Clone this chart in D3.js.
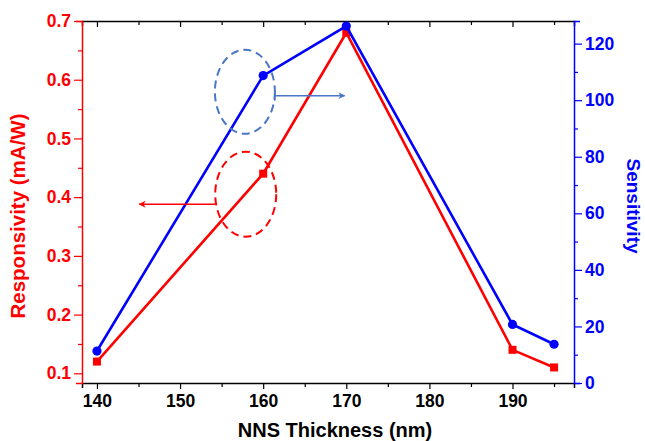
<!DOCTYPE html>
<html>
<head>
<meta charset="utf-8">
<script src="https://cdn.jsdelivr.net/npm/d3@7"></script>
<style>
  body { margin: 0; background: #fff; }
  text { font-family: "Liberation Sans", Arial, sans-serif; font-weight: bold; }
</style>
</head>
<body>
<div id="chart"></div>
<script>
// data
var thickness = [140, 160, 170, 190, 195];
var responsivity = [0.12, 0.44, 0.68, 0.14, 0.11];
var sensitivity = [11.3, 108.7, 126.2, 20.7, 13.7];

var xTicks = [140, 150, 160, 170, 180, 190];
var leftTicks = [0.1, 0.2, 0.3, 0.4, 0.5, 0.6, 0.7];
var rightTicks = [0, 20, 40, 60, 80, 100, 120];

var svgWidth = 645, svgHeight = 441;
var margin = { top: 21, right: 71, bottom: 58, left: 82 };
var width = svgWidth - margin.left - margin.right;
var height = svgHeight - margin.top - margin.bottom;

var RED = "#ff0000", BLUE = "#0000ff", ANNO_BLUE = "#4a76c6";

var svg = d3.select("#chart").append("svg")
  .attr("width", svgWidth)
  .attr("height", svgHeight);

var chartGroup = svg.append("g")
  .attr("transform", `translate(${margin.left}, ${margin.top})`);

// scales
var xScale = d3.scaleLinear().domain([138.2, 197.4]).range([0, width]);
var yLeft = d3.scaleLinear().domain([0.0835, 0.7]).range([height, 0]);
var yRight = d3.scaleLinear().domain([0, 128]).range([height, 0]);

// axes
var bottomAxis = d3.axisBottom(xScale).tickValues(d3.range(140, 196, 5))
  .tickSize(5).tickFormat(d => xTicks.includes(d) ? d : "");
var topAxis = d3.axisTop(xScale).tickValues(d3.range(140, 196, 5))
  .tickSize(-5).tickFormat("");
var leftAxis = d3.axisLeft(yLeft).tickValues(d3.range(0.1, 0.71, 0.05))
  .tickSize(6).tickFormat((d, i) => i % 2 === 0 ? d3.format(".1f")(d) : "");
var rightAxis = d3.axisRight(yRight).tickValues(d3.range(0, 121, 10))
  .tickSize(6).tickFormat((d, i) => i % 2 === 0 ? d : "");

function styleAxis(g, color, size) {
  g.select(".domain").attr("stroke", color).attr("stroke-width", 1.5);
  g.selectAll(".tick line").attr("stroke", color).attr("stroke-width", 1.2);
  g.selectAll(".tick text").attr("fill", color)
    .style("font-size", size + "px")
    .style("font-family", '"Liberation Sans", Arial, sans-serif')
    .style("font-weight", "bold");
}

var gBottom = chartGroup.append("g")
  .attr("transform", `translate(0, ${height})`)
  .call(bottomAxis);
styleAxis(gBottom, "#000", 17.5);
gBottom.selectAll(".tick text").attr("dy", "0.9em");
// shorter minor ticks
gBottom.selectAll(".tick line").attr("y2", d => xTicks.includes(d) ? 6 : 4);

var gTop = chartGroup.append("g").call(topAxis);
styleAxis(gTop, "#000", 17);
gTop.selectAll(".tick line").attr("y2", d => xTicks.includes(d) ? 6 : 4);

var gLeft = chartGroup.append("g").call(leftAxis);
styleAxis(gLeft, RED, 17.5);
gLeft.selectAll(".tick line").attr("x2", (d, i) => i % 2 === 0 ? -8 : -4);
gLeft.selectAll(".tick text").attr("x", -11);

var gRight = chartGroup.append("g")
  .attr("transform", `translate(${width}, 0)`)
  .call(rightAxis);
styleAxis(gRight, BLUE, 17.5);
gRight.selectAll(".tick line").attr("x2", (d, i) => i % 2 === 0 ? 8 : 4);
gRight.selectAll(".tick text").attr("x", 11);

// axis titles
chartGroup.append("text")
  .attr("transform", `translate(${-64}, ${height / 2 + 14}) rotate(-90)`)
  .attr("text-anchor", "middle")
  .attr("dy", "0.35em")
  .attr("fill", RED)
  .style("font-size", "20.5px")
  .text("Responsivity (mA/W)");

chartGroup.append("text")
  .attr("transform", `translate(${width + 60}, ${height / 2 + 4}) rotate(90)`)
  .attr("text-anchor", "middle")
  .attr("dy", "0.35em")
  .attr("fill", BLUE)
  .style("font-size", "19px")
  .text("Sensitivity");

chartGroup.append("text")
  .attr("x", width / 2 + 7)
  .attr("y", height + 54)
  .attr("text-anchor", "middle")
  .attr("fill", "#000")
  .style("font-size", "20px")
  .text("NNS Thickness (nm)");

// lines
var redData = thickness.map((t, i) => ({ x: t, y: responsivity[i] }));
var blueData = thickness.map((t, i) => ({ x: t, y: sensitivity[i] }));

var redLine = d3.line().x(d => xScale(d.x)).y(d => yLeft(d.y));
var blueLine = d3.line().x(d => xScale(d.x)).y(d => yRight(d.y));

chartGroup.append("path").datum(redData)
  .attr("d", redLine).attr("fill", "none")
  .attr("stroke", RED).attr("stroke-width", 2.6);

chartGroup.selectAll(".sq").data(redData).enter().append("rect")
  .attr("x", d => xScale(d.x) - 4)
  .attr("y", d => yLeft(d.y) - 4)
  .attr("width", 8).attr("height", 8)
  .attr("fill", RED);

chartGroup.append("path").datum(blueData)
  .attr("d", blueLine).attr("fill", "none")
  .attr("stroke", BLUE).attr("stroke-width", 2.6);

chartGroup.selectAll(".dot").data(blueData).enter().append("circle")
  .attr("cx", d => xScale(d.x))
  .attr("cy", d => yRight(d.y))
  .attr("r", 4.6)
  .attr("fill", BLUE);

// annotations: dashed ellipses with arrows pointing to the axes
svg.append("defs").selectAll("marker")
  .data([["headRed", RED], ["headBlue", ANNO_BLUE]])
  .enter().append("marker")
  .attr("id", d => d[0])
  .attr("viewBox", "0 0 10 10")
  .attr("refX", 9).attr("refY", 5)
  .attr("markerWidth", 7).attr("markerHeight", 7)
  .attr("markerUnits", "userSpaceOnUse")
  .attr("orient", "auto")
  .append("path").attr("d", "M0,0 L10,5 L0,10 L3,5 Z")
  .attr("fill", d => d[1]);

// blue ellipse around 160 nm sensitivity point
chartGroup.append("ellipse")
  .attr("cx", xScale(157.8)).attr("cy", yRight(103))
  .attr("rx", 30).attr("ry", 42)
  .attr("fill", "none").attr("stroke", ANNO_BLUE)
  .attr("stroke-width", 2).attr("stroke-dasharray", "8,5");

chartGroup.append("line")
  .attr("x1", xScale(161.4)).attr("x2", xScale(169.8))
  .attr("y1", yRight(101.6)).attr("y2", yRight(101.6))
  .attr("stroke", ANNO_BLUE).attr("stroke-width", 1.5)
  .attr("marker-end", "url(#headBlue)");
chartGroup.append("line")
  .attr("x1", xScale(161.4)).attr("x2", xScale(161.4))
  .attr("y1", yRight(101.6) - 5).attr("y2", yRight(101.6) + 5)
  .attr("stroke", ANNO_BLUE).attr("stroke-width", 1.5);

// red ellipse around 160 nm responsivity point
chartGroup.append("ellipse")
  .attr("cx", xScale(157.9)).attr("cy", yLeft(0.405))
  .attr("rx", 30.5).attr("ry", 42.5)
  .attr("fill", "none").attr("stroke", RED)
  .attr("stroke-width", 2).attr("stroke-dasharray", "8,5");

chartGroup.append("line")
  .attr("x1", xScale(154.2)).attr("x2", xScale(145.1))
  .attr("y1", yLeft(0.388)).attr("y2", yLeft(0.388))
  .attr("stroke", RED).attr("stroke-width", 1.5)
  .attr("marker-end", "url(#headRed)");
</script>
</body>
</html>
